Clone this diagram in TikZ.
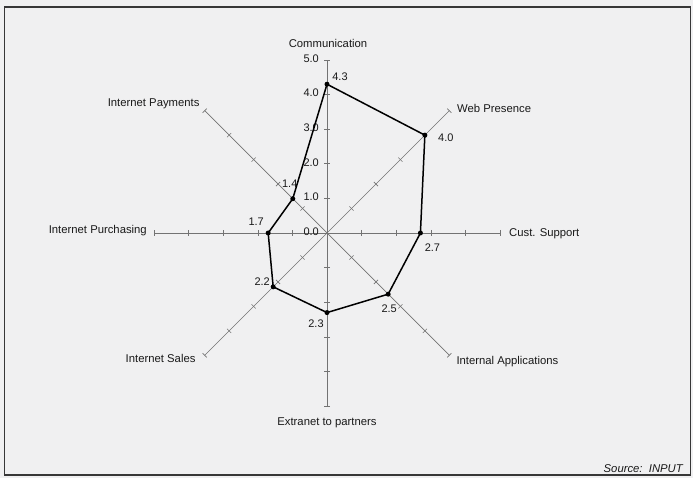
\documentclass[tikz,border=0pt]{standalone}
\usepackage{fontspec}
\setmainfont{Liberation Sans}
\definecolor{axisgray}{RGB}{115,115,115}
\definecolor{bgcol}{RGB}{240,240,241}
\definecolor{framecol}{RGB}{55,55,55}
\begin{document}
\begin{tikzpicture}[x=1pt,y=1pt,
  axisline/.style={draw=axisgray,line width=0.7pt},
  tickmark/.style={draw=axisgray,line width=0.6pt},
  dot/.style={circle,fill=black,inner sep=0pt,minimum size=5pt},
  lbl/.style={font=\fontsize{11.3}{13}\selectfont,inner sep=0pt,text=black!90},
  val/.style={font=\fontsize{11}{13}\selectfont,inner sep=0pt,text=black!90},
  poly/.style={draw=black,line width=1.5pt,line join=round}]
\useasboundingbox (0,0) rectangle (693,-478);
\fill[bgcol] (0,0) rectangle (693,-478);
\draw[framecol,line width=1.3pt] (4.5,-7) rectangle (690.5,-475);

\coordinate (C) at (327,-233);
% axes with ticks
\foreach \a/\n in {90/comm,45/web,0/cust,-45/intapp,-90/extr,-135/sales,180/purch,135/pay}{
  \coordinate (E\n) at ([shift={(\a:173)}]C);
  \draw[axisline] (C) -- (E\n);
  \foreach \k in {1,...,5}{
    \draw[tickmark] ([shift={(\a:\k*34.6)}]C) ++(\a+90:3) -- ++(\a-90:6);
  }
}
% scale labels
\foreach \k in {0,...,5}{
  \node[val,anchor=east] (S\k) at (319,-231.5+\k*34.6) {\k.0};
}
% axis labels
\node[lbl] (Lcomm) at ([shift={(1,17)}]Ecomm) {Communication};
\node[lbl,anchor=west] (Lweb) at ([shift={(7.7,2.7)}]Eweb) {Web Presence};
\node[lbl,anchor=west] (Lcust) at ([shift={(9,-1)}]Ecust) {Cust. Support};
\node[lbl,anchor=west] (Lintapp) at ([shift={(7,-6)}]Eintapp) {Internal Applications};
\node[lbl] (Lextr) at ([shift={(0,-17)}]Eextr) {Extranet to partners};
\node[lbl,anchor=east] (Lsales) at ([shift={(-9,-3)}]Esales) {Internet Sales};
\node[lbl,anchor=east] (Lpurch) at ([shift={(-7,2)}]Epurch) {Internet Purchasing};
\node[lbl,anchor=east] (Lpay) at ([shift={(-5,7)}]Epay) {Internet Payments};

% data points
\node[dot] (Pcomm) at ([shift={(90:4.3*34.6)}]C) {};
\node[dot] (Pweb) at ([shift={(45:4.0*34.6)}]C) {};
\node[dot] (Pcust) at ([shift={(0:2.7*34.6)}]C) {};
\node[dot] (Pintapp) at ([shift={(-45:2.5*34.6)}]C) {};
\node[dot] (Pextr) at ([shift={(-90:2.3*34.6)}]C) {};
\node[dot] (Psales) at ([shift={(-135:2.2*34.6)}]C) {};
\node[dot] (Ppurch) at ([shift={(180:1.7*34.6)}]C) {};
\node[dot] (Ppay) at ([shift={(135:1.4*34.6)}]C) {};
\draw[poly] (Pcomm.center) -- (Pweb.center) -- (Pcust.center) -- (Pintapp.center)
  -- (Pextr.center) -- (Psales.center) -- (Ppurch.center) -- (Ppay.center) -- cycle;

% value labels
\node[val] (Vcomm) at ([shift={(13,8)}]Pcomm) {4.3};
\node[val] (Vweb) at ([shift={(21,-3)}]Pweb) {4.0};
\node[val] (Vcust) at ([shift={(12,-15)}]Pcust) {2.7};
\node[val] (Vintapp) at ([shift={(1,-15)}]Pintapp) {2.5};
\node[val] (Vextr) at ([shift={(-11,-11)}]Pextr) {2.3};
\node[val] (Vsales) at ([shift={(-11,5)}]Psales) {2.2};
\node[val] (Vpurch) at ([shift={(-12,11)}]Ppurch) {1.7};
\node[val] (Vpay) at ([shift={(-3,15)}]Ppay) {1.4};

\node[lbl,anchor=east,font=\fontsize{11.3}{13}\selectfont\itshape] (Src) at (683,-469) {Source:\ \ INPUT};
\end{tikzpicture}
\end{document}
